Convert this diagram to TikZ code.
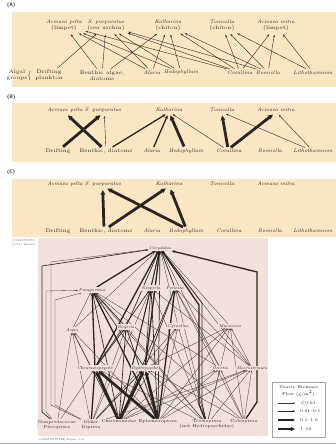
\documentclass[tikz,border=0pt]{standalone}
\usepackage{amsmath}
\usepackage{xcolor}
\usepackage{tikz}
\usetikzlibrary{arrows.meta,positioning,calc,backgrounds}

\definecolor{beige}{RGB}{251,230,196}
\definecolor{webpink}{RGB}{242,224,220}
\definecolor{ink}{RGB}{40,36,34}

\tikzset{
  ptag/.style={font=\fontsize{5}{6}\selectfont\bfseries\sffamily, text=ink, anchor=west, inner sep=0pt},
  lab/.style={font=\fontsize{5.2}{6.2}\selectfont, text=ink, align=center, inner sep=1pt},
  wlab/.style={font=\fontsize{4.2}{4.9}\selectfont, text=ink, align=center, inner sep=0.8pt, fill=webpink},
  tiny/.style={font=\fontsize{2.6}{3}\selectfont, text=ink!80, anchor=west, inner sep=0pt},
  feed/.style={draw=ink, line width=0.4pt, shorten >=2.5pt, shorten <=1pt, -{Stealth[length=2.6pt,width=1.9pt]}},
  fthin/.style={feed},
  fmed/.style={feed, line width=1.3pt, -{Stealth[length=3.5pt,width=3pt]}},
  fthick/.style={feed, line width=2.8pt, -{Stealth[length=5pt,width=5pt]}},
  w1/.style={draw=ink!90, line width=0.32pt, -{Stealth[length=1.9pt,width=1.4pt]}},
  w2/.style={draw=ink, line width=0.65pt, -{Stealth[length=2.4pt,width=1.9pt]}},
  w3/.style={draw=ink, line width=1.3pt, -{Stealth[length=3.2pt,width=2.8pt]}},
  w4/.style={draw=ink, line width=2.7pt, -{Stealth[length=4.6pt,width=4.4pt]}},
}

\begin{document}
\begin{tikzpicture}[x=1pt,y=-1pt]
  \useasboundingbox (0,0) rectangle (336,444);

  % panel (A)
  \node[ptag] at (7,5) {(A)};
  \node[lab] (A-pel) at (64,25.5) {{\itshape Acmaea pelta}\\(limpet)};
  \node[lab] (A-pur) at (106,25.5) {{\itshape S. purpuratus}\\(sea urchin)};
  \node[lab] (A-kat) at (168,25.5) {{\itshape Katharina}\\(chiton)};
  \node[lab] (A-ton) at (222,25.5) {{\itshape Tonicella}\\(chiton)};
  \node[lab] (A-mit) at (276,25.5) {{\itshape Acmaea mitra}\\(limpet)};
  \node[lab] (A-alg) at (17,75.5) {Algal\\groups};
  \node[lab] (A-brc) at (30,75.5) {$\left\{\rule{0pt}{6pt}\right.$};
  \node[lab] (A-dri) at (49,75.5) {Drifting\\plankton};
  \node[lab] (A-ben) at (102,75.5) {Benthic algae,\\diatoms};
  \node[lab] (A-ala) at (152,72.4) {\itshape Alaria};
  \node[lab] (A-hed) at (181,72.4) {\itshape Hedophyllum};
  \node[lab] (A-cor) at (240,72.4) {\itshape Corallina};
  \node[lab] (A-bos) at (268,72.4) {\itshape Bossiella};
  \node[lab] (A-lit) at (313,72.4) {\itshape Lithothamnion};

  % panels (B) and (C)
  \node[ptag] at (7,97) {(B)};
  \node[ptag] at (7,172) {(C)};
  \foreach \p/\yt/\yb in {B/110/151, C/184/231}{
    \node[lab] (\p-pel) at (65,\yt) {\itshape Acmaea pelta};
    \node[lab] (\p-pur) at (103,\yt) {\itshape S. purpuratus};
    \node[lab] (\p-kat) at (169,\yt) {\itshape Katharina};
    \node[lab] (\p-ton) at (222,\yt) {\itshape Tonicella};
    \node[lab] (\p-mit) at (276,\yt) {\itshape Acmaea mitra};
    \node[lab] (\p-dri) at (58,\yb) {Drifting};
    \node[lab] (\p-ben) at (106,\yb) {Benthic, diatoms};
    \node[lab] (\p-ala) at (152,\yb) {\itshape Alaria};
    \node[lab] (\p-hed) at (186,\yb) {\itshape Hedophyllum};
    \node[lab] (\p-cor) at (229,\yb) {\itshape Corallina};
    \node[lab] (\p-bos) at (270,\yb) {\itshape Bossiella};
    \node[lab] (\p-lit) at (313,\yb) {\itshape Lithothamnion};
  }

  % stream web
  \node[tiny] at (12,241) {COMMUNITY};
  \node[tiny] at (12,244.5) {\textcopyright\ 2011 Sinauer};
  \node[wlab] (cory) at (160,248) {\itshape Corydalus};
  \node[wlab] (para) at (92,290) {\itshape Paragnetina};
  \node[wlab] (neop) at (151,288) {\itshape Neoperla};
  \node[wlab] (perl) at (175,288) {\itshape Perlesta};
  \node[wlab] (argi) at (72,330) {\itshape Argia};
  \node[wlab] (boye) at (126,327) {\itshape Boyeria};
  \node[wlab] (cyrn) at (178,326) {\itshape Cyrnellus};
  \node[wlab] (macm) at (230,326) {\itshape Macromia};
  \node[wlab] (cheu) at (95,368) {\itshape Cheumatopsyche};
  \node[wlab] (hydr) at (145,368) {\itshape Hydropsyche};
  \node[wlab] (oece) at (220,368) {\itshape Oecetis};
  \node[wlab] (macr) at (252,368) {\itshape Macrostemum};
  \node[wlab] (nonp) at (57,424.5) {Nonpredaceous\\Plecoptera};
  \node[wlab] (othd) at (91,424.5) {Other\\Diptera};
  \node[wlab] (chir) at (119,421.4) {Chironomidae};
  \node[wlab] (ephe) at (158,421.4) {Ephemeroptera};
  \node[wlab] (tric) at (207,424.5) {Trichoptera\\(not Hydropsychidae)};
  \node[wlab] (cole) at (244,421.4) {Coleoptera};

  \coordinate (kA1) at (42,412); \coordinate (kA2) at (42,266);
  \coordinate (kB1) at (46,412); \coordinate (kB2) at (46,291);
  \coordinate (kC1) at (51,405); \coordinate (kC2) at (51,262);
  \coordinate (kG1) at (55,405); \coordinate (kG2) at (55,300);
  \coordinate (kD1) at (257,402); \coordinate (kD2) at (257,272);
  \coordinate (kE1) at (199,404); \coordinate (kE2) at (199,305);
  \coordinate (kF1) at (202,404); \coordinate (kF2) at (202,303);

  % legend
  \draw[draw=gray!70, fill=white, line width=0.4pt] (272,382) rectangle (325,437);
  \node[wlab, fill=white] (legt) at (298.5,391) {Yearly Biomass\\Flow (g/m$^2$)};
  \foreach \w/\y/\t in {1/403/{$<$0.01}, 2/411/0.01--0.1, 3/420/0.1--1.0, 4/429/1--10}{
    \coordinate (l\w a) at (278,\y); \coordinate (l\w b) at (295,\y);
    \draw[w\w] (l\w a) -- (l\w b);
    \node[wlab, fill=white, anchor=west] (l\w t) at (299,\y) {\t};
  }
  \node[tiny] at (38,440) {COMMUNITY2E/Figure 9.16};
  \fill[gray!60] (0,442.5) rectangle (336,444);

  \begin{pgfonlayer}{background}
    \fill[beige] (12,12) rectangle (336,87);
    \fill[beige] (12,103) rectangle (336,162);
    \fill[beige] (12,179) rectangle (336,237);
    \fill[webpink] (38,238) rectangle (268,436);

    \foreach \f/\t in {dri/pur, ben/pel, ben/pur, ben/kat, ala/pel, ala/pur, ala/kat,
        hed/pel, hed/pur, hed/kat, cor/pel, cor/pur, cor/kat, cor/ton, cor/mit,
        bos/pur, bos/kat, bos/ton, bos/mit, lit/ton, lit/mit}
      \draw[feed] (A-\f) -- (A-\t);

    \draw[fthick] (B-dri) -- (B-pur.260);
    \draw[fthick] (B-ben) -- (B-pel.285);
    \draw[fthin] (B-ben) -- (B-pur.290);
    \draw[fmed] (B-ben) -- (B-kat.250);
    \draw[fmed] (B-ala) -- (B-kat.262);
    \draw[fthick] (B-hed) -- (B-kat.278);
    \draw[fthin] (B-cor) -- (B-kat.298);
    \draw[fthick] (B-cor.110) -- (B-ton.265);
    \draw[fthick] (B-cor.70) -- (B-mit.250);
    \draw[fthin] (B-lit) -- (B-ton.300);
    \draw[fthin] (B-lit) -- (B-mit.290);

    \draw[fthick] (C-ben.120) -- (C-pur.265);
    \draw[fthick] (C-ben.60) -- (C-kat.250);
    \draw[fthick] (C-hed.120) -- (C-pur.300);
    \draw[fthick] (C-hed.95) -- (C-kat.282);

    \foreach \f/\t/\w in {para/cory/3, neop/cory/2, perl/cory/2, argi/cory/1, boye/cory/2,
        cyrn/cory/1, macm/cory/1, cheu/cory/3, hydr/cory/3, oece/cory/1, macr/cory/1,
        chir/cory/2, ephe/cory/2,
        argi/para/1, boye/para/2, cheu/para/3, hydr/para/2, chir/para/2, ephe/para/3,
        tric/para/1, cole/para/1, oece/para/1,
        cheu/neop/2, hydr/neop/2, chir/neop/2, ephe/neop/2, othd/neop/1, tric/neop/1, macr/neop/1,
        hydr/perl/2, chir/perl/2, ephe/perl/3, tric/perl/1, cole/perl/1, macr/perl/1, oece/perl/1,
        chir/argi/2, othd/argi/1, ephe/argi/1, nonp/argi/1,
        chir/boye/2, ephe/boye/2, cheu/boye/2, othd/boye/1, tric/boye/1,
        chir/cyrn/1, ephe/cyrn/1, tric/cyrn/1, othd/cyrn/1,
        chir/macm/1, ephe/macm/1, tric/macm/1, cole/macm/1, hydr/macm/1, macr/macm/1,
        chir/cheu/4, ephe/cheu/4, othd/cheu/3, nonp/cheu/1, tric/cheu/1,
        chir/hydr/4, ephe/hydr/4, othd/hydr/2, tric/hydr/1, cole/hydr/1,
        chir/oece/1, ephe/oece/1, tric/oece/1, cole/oece/1,
        chir/macr/1, ephe/macr/1, tric/macr/1, cole/macr/1, othd/macr/1}
      \draw[w\w] (\f) -- (\t);

    \draw[w2] (nonp) -- (kA1) -- (kA2) -- (cory);
    \draw[w1] (nonp) -- (kB1) -- (kB2) -- (para);
    \draw[w1] (othd) -- (kC1) -- (kC2) -- (cory);
    \draw[w1] (othd) -- (kG1) -- (kG2) -- (para);
    \draw[w3] (cole) -- (kD1) -- (kD2) -- (cory);
    \draw[w3] (tric) -- (kE1) -- (kE2) -- (cory);
    \draw[w2] (tric) -- (kF1) -- (kF2) -- (cory);
  \end{pgfonlayer}
\end{tikzpicture}
\end{document}
